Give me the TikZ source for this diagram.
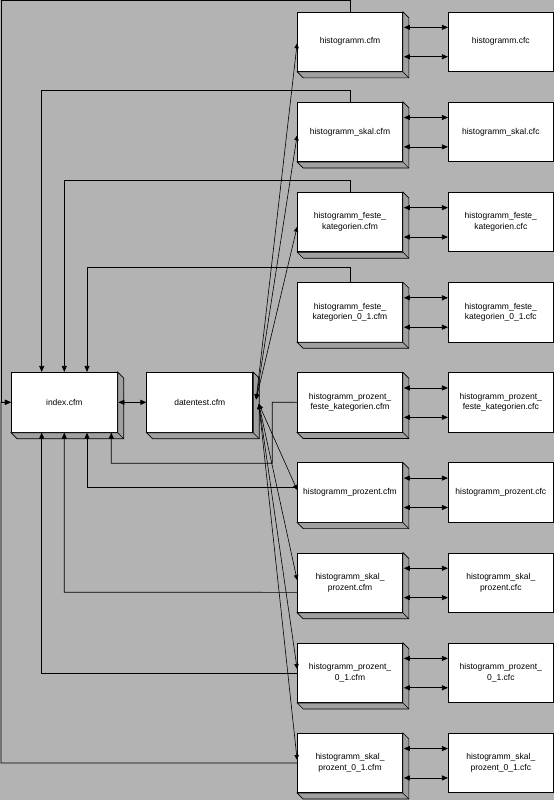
\documentclass[tikz,border=0pt]{standalone}
\usepackage{fontspec}
\setmainfont{Liberation Sans}
\usetikzlibrary{arrows.meta}
\definecolor{bg}{RGB}{179,179,179}
\definecolor{sidegray}{RGB}{160,160,160}
\tikzset{
  page/.style={draw=black, fill=white, line width=0.7pt, minimum width=105pt,
    minimum height=59.5pt, inner sep=0pt, align=center,
    font=\fontsize{8.5}{10.7}\selectfont},
  wide/.style={page, minimum width=106pt, minimum height=60pt},
  face/.style={draw=black, fill=sidegray, line width=0.7pt},
  link/.style={line width=0.7pt, -{Triangle[length=6pt,width=5pt]}},
  dlink/.style={line width=0.7pt, {Triangle[length=6pt,width=5pt]}-{Triangle[length=6pt,width=5pt]}},
  fan/.style={line width=0.6pt, {Triangle[length=5pt,width=4.5pt]}-{Triangle[length=5pt,width=4.5pt]}},
}
\newcommand\mkside[1]{%
  \filldraw[face] (#1.north east) -- ++(6,6) -- ([shift={(6,6)}]#1.south east)
    -- ([shift={(6,6)}]#1.south west) -- (#1.south west) -- (#1.south east) -- cycle;
  \draw[line width=0.5pt] (#1.south east) -- ++(6,6);}
\begin{document}
\begin{tikzpicture}[x=1pt,y=-1pt]
\fill[bg] (0,0) rectangle (554,800);
\useasboundingbox (0,0) rectangle (554,800);

% left-hand pages
\node[wide] (idx) at (64.3,402.3) {index.cfm};
\node[wide] (dt) at (199.8,402.3) {datentest.cfm};
\mkside{idx}
\mkside{dt}

% cfm pages
\node[page] (r1) at (350,41.75) {histogramm.cfm};
\node[page] (r2) at (350,131.9) {histogramm\_skal.cfm};
\node[page] (r3) at (350,222.05) {histogramm\_feste\_\\kategorien.cfm};
\node[page] (r4) at (350,312.2) {histogramm\_feste\_\\kategorien\_0\_1.cfm};
\node[page] (r5) at (350,402.35) {histogramm\_prozent\_\\feste\_kategorien.cfm};
\node[page] (r6) at (350,492.5) {histogramm\_prozent.cfm};
\node[page] (r7) at (350,582.65) {histogramm\_skal\_\\prozent.cfm};
\node[page] (r8) at (350,672.8) {histogramm\_prozent\_\\0\_1.cfm};
\node[page] (r9) at (350,762.95) {histogramm\_skal\_\\prozent\_0\_1.cfm};
\foreach \n in {r1,r2,r3,r4,r5,r6,r7,r8,r9} {\mkside{\n}}

% cfc components
\node[page] (c1) at (500.8,41.75) {histogramm.cfc};
\node[page] (c2) at (500.8,131.9) {histogramm\_skal.cfc};
\node[page] (c3) at (500.8,222.05) {histogramm\_feste\_\\kategorien.cfc};
\node[page] (c4) at (500.8,312.2) {histogramm\_feste\_\\kategorien\_0\_1.cfc};
\node[page] (c5) at (500.8,402.35) {histogramm\_prozent\_\\feste\_kategorien.cfc};
\node[page] (c6) at (500.8,492.5) {histogramm\_prozent.cfc};
\node[page] (c7) at (500.8,582.65) {histogramm\_skal\_\\prozent.cfc};
\node[page] (c8) at (500.8,672.8) {histogramm\_prozent\_\\0\_1.cfc};
\node[page] (c9) at (500.8,762.95) {histogramm\_skal\_\\prozent\_0\_1.cfc};

% cfm <-> cfc
\foreach \i in {1,...,9} {
  \draw[dlink] ([xshift=1pt,yshift=14.4pt]r\i.east) -- ([yshift=14.4pt]c\i.west);
  \draw[dlink] ([xshift=1pt,yshift=-15pt]r\i.east) -- ([yshift=-15pt]c\i.west);
}

% index <-> datentest
\draw[dlink] ([xshift=0.7pt]idx.east) -- (dt.west);

% datentest fan
\coordinate (fu) at ([xshift=3pt,yshift=3pt]dt.east);
\coordinate (fl) at ([xshift=5.7pt,yshift=-1.7pt]dt.east);
\draw[fan] (fu) -- ([yshift=-1.5pt]r1.west);
\draw[fan] (fu) -- ([yshift=-3.4pt]r2.west);
\draw[fan] (fu) -- ([yshift=-4.7pt]r3.west);
\draw[fan] (fl) -- ([yshift=2.5pt]r6.west);
\draw[fan] (fl) -- ([yshift=2.6pt]r7.west);
\draw[fan] (fl) -- ([yshift=3.8pt]r8.west);
\draw[fan] (fl) -- ([yshift=3pt]r9.west);

% links back to index (top)
\coordinate (t1) at (1,0.6);
\coordinate (k2) at (41.7,90);
\coordinate (k3) at (64.3,180.3);
\coordinate (k4) at (87,267.3);
\draw[link] (r1.north) |- (t1) |- (idx.west);
\draw[link] (r2.north) |- (k2) -- (k2 |- idx.north);
\draw[link] (r3.north) |- (k3) -- (k3 |- idx.north);
\draw[link] (r4.north) |- (k4) -- (k4 |- idx.north);

% links back to index (bottom)
\coordinate (b5a) at (272.3,402.3);
\coordinate (b5) at (111.3,463.3);
\coordinate (b6) at (87,487.7);
\coordinate (b7) at (64.3,592.3);
\coordinate (b8) at (41.7,673.3);
\coordinate (b9) at (1,763);
\draw[link] (r5.west) -- (b5a) |- (b5) -- (b5 |- idx.south);
\draw[link] ([yshift=4.8pt]r6.west) -- (b6) -- (b6 |- idx.south);
\draw[link] ([yshift=-9.7pt]r7.west) -- (b7) -- (b7 |- idx.south);
\draw[link] ([yshift=-0.5pt]r8.west) -- (b8) -- (b8 |- idx.south);
\draw[link] (r9.west) -- (b9) |- (idx.west);
\end{tikzpicture}
\end{document}
